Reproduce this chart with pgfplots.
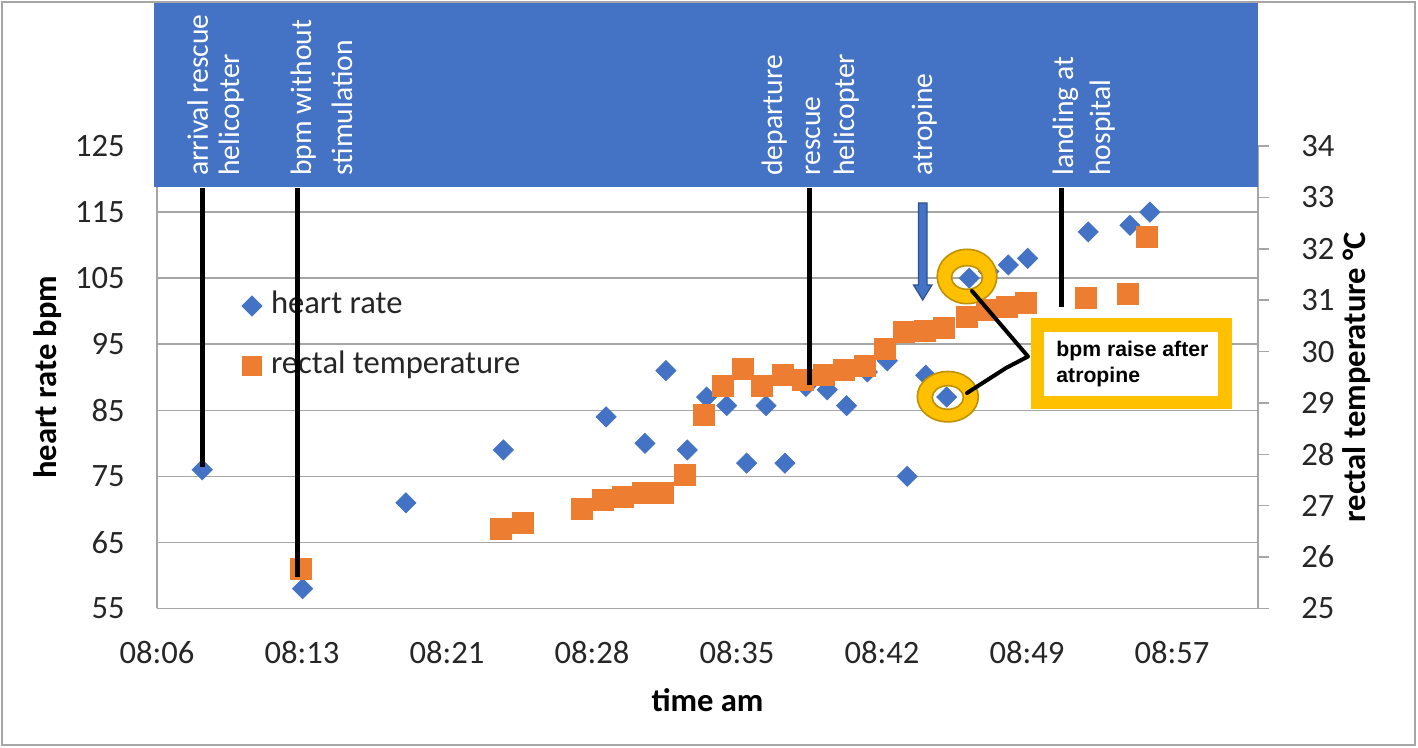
\documentclass[border=0pt]{standalone}
\usepackage{fontspec}
\setmainfont{Carlito}
\newfontfamily\annotfont{Liberation Sans}
\usepackage{pgfplots}
\pgfplotsset{compat=1.18}
\definecolor{hrblue}{HTML}{4472C4}
\definecolor{temporange}{HTML}{ED7D31}
\definecolor{gridgray}{HTML}{A6A6A6}
\definecolor{gold}{HTML}{FFC000}
\definecolor{darkgold}{HTML}{BF9000}
\definecolor{arrowedge}{HTML}{2F528F}
\begin{document}
\begin{tikzpicture}
\begin{scope}[x=0.5pt,y=-0.5pt,shift={(-78.5pt,304.25pt)}]
\path[use as bounding box] (0,0) rectangle (1418,748);
\end{scope}

\begin{axis}[
  scale only axis, width=550.5pt, height=231.25pt,
  xmin=6.6, xmax=61.27, ymin=55, ymax=125,
  axis x line*=bottom, axis y line*=left,
  axis line style={draw=gridgray, line width=0.75pt, -},
  xtick={6.6,13.8,21.0,28.2,35.4,42.6,49.8,57.0},
  xticklabels={08:06,08:13,08:21,08:28,08:35,08:42,08:49,08:57},
  ytick={55,65,...,125},
  ymajorgrids, major grid style={draw=gridgray, line width=0.75pt},
  major tick length=0pt,
  /pgf/number format/assume math mode=true,
  tick label style={font=\fontsize{16.3}{19}\selectfont, text=black!85},
  xticklabel style={anchor=north, inner sep=0pt, yshift=-16pt},
  yticklabel style={anchor=east, inner sep=0pt, xshift=-16pt},
  xlabel={time am}, ylabel={heart rate bpm},
  label style={font=\fontsize{16.3}{19}\selectfont\bfseries},
  xlabel style={at={(axis description cs:0.5,-0.1978)}, anchor=center},
  ylabel style={at={(axis description cs:-0.0990,0.5)}, anchor=center},
  legend cell align=left,
  legend style={draw=none, fill=none, inner sep=0pt, outer sep=0pt,
    at={(axis description cs:0.0772,0.6854)}, anchor=north west,
    font=\fontsize{16.3}{19}\selectfont, text=black!85,
    row sep=15.5pt, column sep=4.5pt,
    nodes={inner sep=0pt, text height=11pt, text depth=3.5pt}},
]
\addplot[only marks, mark=square*, mark size=3.54pt, color=hrblue, mark options={rotate=45}]
table[x=t, y=hr] {
t hr
8.85 76
13.83 58
18.96 71
23.80 79
28.90 84
30.83 80
31.87 91
32.93 79
33.89 87
34.89 85.7
35.88 77
36.84 85.7
37.78 77
38.82 88.6
39.88 88.1
40.84 85.7
41.87 90.8
42.86 92.5
43.85 75
44.77 90.3
45.81 87
46.93 105
47.90 106
48.87 107
49.83 108
52.84 112
54.91 113
55.90 115
};
\addlegendentry{heart rate}
\addlegendimage{only marks, mark=square*, mark size=4.75pt, color=temporange}
\addlegendentry{rectal temperature}
\end{axis}

\begin{axis}[
  scale only axis, width=550.5pt, height=231.25pt,
  xmin=6.6, xmax=61.27, ymin=25, ymax=34,
  axis x line=none, axis y line*=right,
  axis line style={draw=gridgray, line width=0.75pt, -},
  ytick={25,26,...,34},
  tick align=outside, major tick length=5.5pt,
  tick style={draw=gridgray, line width=0.75pt},
  /pgf/number format/assume math mode=true,
  yticklabel style={font=\fontsize{16.3}{19}\selectfont, text=black!85, anchor=west, inner sep=0pt, xshift=16pt},
  ylabel={rectal temperature °C},
  ylabel style={font=\fontsize{16.3}{19}\selectfont\bfseries, at={(axis description cs:1.0899,0.5)}, anchor=center},
]
\addplot[only marks, mark=square*, mark size=5.25pt, color=temporange]
table[x=t, y=temp] {
t temp
13.73 25.77
23.68 26.55
24.79 26.66
27.72 26.93
28.73 27.11
29.72 27.18
30.75 27.25
31.74 27.24
32.82 27.59
33.77 28.76
34.72 29.34
35.71 29.67
36.66 29.33
37.66 29.55
38.69 29.44
39.70 29.55
40.71 29.65
41.73 29.72
42.72 30.06
43.69 30.38
44.73 30.40
45.68 30.46
46.80 30.68
47.80 30.81
48.79 30.87
49.73 30.94
52.71 31.04
54.80 31.13
55.77 32.23
};
\end{axis}

\begin{scope}[x=0.5pt,y=-0.5pt,shift={(-78.5pt,304.25pt)}]
\draw[gridgray, line width=0.75pt] (2,2) rectangle (1415,745);
\fill[hrblue] (154,3) rectangle (1258,187.5);
\begin{scope}[every node/.style={rotate=90, anchor=base west, inner sep=0pt, text=white, font=\fontsize{14.8}{17}\selectfont}]
\node at (208,176) {arrival rescue};
\node at (239,176) {helicopter};
\node at (311,176) {bpm without};
\node at (352,176) {stimulation};
\node at (782,176) {departure};
\node at (820,176) {rescue};
\node at (854,176) {helicopter};
\node at (932,176) {atropine};
\node at (1073,176) {landing at};
\node at (1110,176) {hospital};
\end{scope}
\draw[black, line width=2.5pt] (202.5,188) -- (202.5,467);
\draw[black, line width=2.5pt] (297,188) -- (297,577);
\draw[black, line width=2.5pt] (809,188) -- (809,385);
\draw[black, line width=2.5pt] (1061,188) -- (1061,307);
\filldraw[fill=hrblue, draw=arrowedge, line width=0.6pt] (918.5,203) -- (927,203) -- (927,285) -- (932,285) -- (922.7,300) -- (913.5,285) -- (918.5,285) -- cycle;
\draw[gold, line width=6.75pt, fill=white] (1037.5,325) rectangle (1225,402.5);
\node[anchor=base west, inner sep=0pt, font=\annotfont\bfseries\fontsize{10.6}{12}\selectfont] at (1056,356.5) {bpm raise after};
\node[anchor=base west, inner sep=0pt, font=\annotfont\bfseries\fontsize{10.6}{12}\selectfont] at (1056,382.5) {atropine};
\fill[gold, even odd rule] (967,276.5) ellipse [x radius=14.9pt, y radius=13.6pt] (967,277.5) ellipse [x radius=7.8pt, y radius=5.9pt];
\draw[darkgold, line width=0.8pt] (967,276.5) ellipse [x radius=14.9pt, y radius=13.6pt] (967,277.5) ellipse [x radius=7.8pt, y radius=5.9pt];
\fill[gold, even odd rule] (947.8,396.7) ellipse [x radius=15.25pt, y radius=12.6pt] (947.8,397.5) ellipse [x radius=7.8pt, y radius=5.9pt];
\draw[darkgold, line width=0.8pt] (947.8,396.7) ellipse [x radius=15.25pt, y radius=12.6pt] (947.8,397.5) ellipse [x radius=7.8pt, y radius=5.9pt];
\draw[black, line width=2pt, line cap=round, line join=round] (972,291) -- (1028,356.5) -- (1006,368) -- (967,393);
\end{scope}
\end{tikzpicture}
\end{document}
